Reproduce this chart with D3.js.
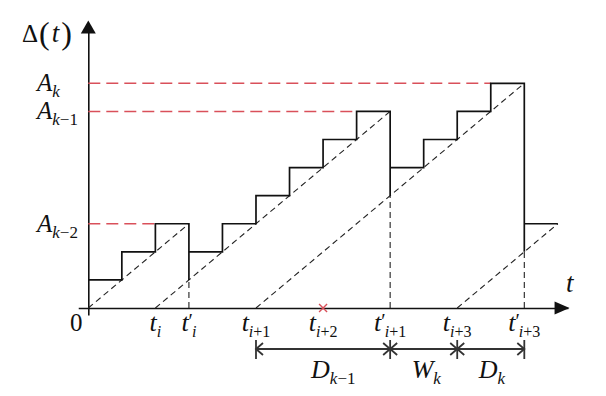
<!DOCTYPE html>
<html>
<head>
<meta charset="utf-8">
<script src="https://cdn.jsdelivr.net/npm/d3@7"></script>
<style>
  html, body { margin: 0; padding: 0; background: #fff; }
  svg { display: block; }
</style>
</head>
<body>
<svg id="chart" width="606" height="396"></svg>
<script>
// ---------------- data ----------------
// staircase of age Δ(t): each run is a list of [t, Δ] vertices
const stairRun1 = [[0,1],[1,1],[1,2],[2,2],[2,3],[3,3],[3,1]];
const stairRun2 = [[3,2],[4,2],[4,3],[5,3],[5,4],[6,4],[6,5],[7,5],[7,6],[8,6],[8,7],[9,7],[9,4]];
const stairRun3 = [[9,5],[10,5],[10,6],[11,6],[11,7],[12,7],[12,8],[13,8],[13,2]];
const stairRun4 = [[13,3],[14,3]];
// dashed unit-slope age lines: start time -> end time
const diagStart = [0, 2, 5, 11];
const diagEnd   = [3, 9, 13, 14];
// dashed vertical drop lines: time, height
const dropTimes   = [3, 9, 13];
const dropHeights = [1, 4, 2];
// red peak-age levels
const peakLevels = [3, 7, 8];
const peakEnds   = [2, 8, 12];
const peakSubs   = ["k−2", "k−1", "k"];
// time tick labels
const tickTimes  = [2, 3, 5, 7, 9, 11, 13];
const tickSubs   = ["i", "i", "i+1", "i+2", "i+1", "i+3", "i+3"];
const tickPrimes = [false, true, false, false, true, false, true];
const lostTime = 7; // red cross at t_{i+2}
// intervals below the axis
const intervalBounds = [5, 9, 11, 13];
const intervalBase   = ["D", "W", "D"];
const intervalSubs   = ["k−1", "k", "k"];

// ---------------- scales ----------------
const x = d3.scaleLinear().domain([0, 13]).range([88.3, 524.3]);
const y = d3.scaleLinear().domain([0, 8]).range([308, 83.3]);

const svg = d3.select("#chart");
const RED = "#d9505a";
const FONT = "Liberation Serif";

function txt(xp, yp) {
  return svg.append("text").attr("x", xp).attr("y", yp)
    .style("font-family", FONT).attr("fill", "#111");
}
// subscript helper: italic letters, upright digits/signs
function addSub(textSel, sub, size, dy, dx) {
  const parts = sub.match(/[a-z]+|[^a-z]+/g);
  parts.forEach((p, i) => {
    const t = textSel.append("tspan")
      .attr("font-size", size)
      .attr("font-style", /[a-z]/.test(p) ? "italic" : "normal")
      .text(p);
    if (i === 0) { t.attr("dy", dy); if (dx) t.attr("dx", dx); }
  });
}

// ---------------- axes ----------------
const xAxisScale = x.copy().domain([-0.3, 14.3]).range([x(-0.3), x(14.3)]);
const yAxisScale = y.copy().domain([-0.25, 10.0]).range([y(-0.25), y(10.0)]);
svg.append("g").attr("transform", `translate(0,${y(0)})`)
  .call(d3.axisBottom(xAxisScale).tickValues([]).tickSizeOuter(0))
  .call(g => g.select(".domain").attr("stroke", "#111").attr("stroke-width", 1.6));
svg.append("g").attr("transform", `translate(${x(0)},0)`)
  .call(d3.axisLeft(yAxisScale).tickValues([]).tickSizeOuter(0))
  .call(g => g.select(".domain").attr("stroke", "#111").attr("stroke-width", 1.6));
// arrowheads
const xTip = x(14.35), yTip = y(10.24);
svg.append("path")
  .attr("d", `M${xTip},${y(0)} L${xTip-15},${y(0)-6.5} L${xTip-15},${y(0)+6.5} Z`)
  .attr("fill", "#111");
svg.append("path")
  .attr("d", `M${x(0)},${yTip} L${x(0)-7.5},${yTip+13} L${x(0)+7.5},${yTip+13} Z`)
  .attr("fill", "#111");

// ---------------- red dashed peak levels ----------------
svg.selectAll(".peak").data(peakLevels).join("line")
  .attr("x1", x(0)).attr("x2", (d, i) => x(peakEnds[i]))
  .attr("y1", d => y(d)).attr("y2", d => y(d))
  .attr("stroke", RED).attr("stroke-width", 1.5)
  .attr("stroke-dasharray", "12,6");

// ---------------- dashed age lines ----------------
svg.selectAll(".diag").data(diagStart).join("line")
  .attr("x1", d => x(d)).attr("y1", y(0))
  .attr("x2", (d, i) => x(diagEnd[i])).attr("y2", (d, i) => y(diagEnd[i] - d))
  .attr("stroke", "#222").attr("stroke-width", 1.1)
  .attr("stroke-dasharray", "6,4");
svg.selectAll(".drop").data(dropTimes).join("line")
  .attr("x1", d => x(d)).attr("x2", d => x(d))
  .attr("y1", y(0)).attr("y2", (d, i) => y(dropHeights[i]))
  .attr("stroke", "#222").attr("stroke-width", 1.1)
  .attr("stroke-dasharray", "6,4");

// ---------------- staircase ----------------
const line = d3.line().x(d => x(d[0])).y(d => y(d[1]));
[stairRun1, stairRun2, stairRun3, stairRun4].forEach(run => {
  svg.append("path").attr("d", line(run))
    .attr("fill", "none").attr("stroke", "#111").attr("stroke-width", 1.7);
});

// ---------------- red cross ----------------
svg.append("path")
  .attr("d", `M${x(lostTime)-4},${y(0)-4} L${x(lostTime)+4},${y(0)+4} M${x(lostTime)-4},${y(0)+4} L${x(lostTime)+4},${y(0)-4}`)
  .attr("stroke", RED).attr("stroke-width", 1.4);

// ---------------- y labels ----------------
const yl = txt(22, 42);
yl.append("tspan").attr("font-size", 25).text("Δ");
yl.append("tspan").attr("font-size", 32).attr("dx", 1).attr("dy", 2).text("(");
yl.append("tspan").attr("font-size", 27).attr("font-style", "italic").attr("dx", 2).attr("dy", -2).text("t");
yl.append("tspan").attr("font-size", 32).attr("dx", 2).attr("dy", 2).text(")");

peakLevels.forEach((lv, i) => {
  const t = txt(37, y(lv) + 8);
  t.append("tspan").attr("font-size", 25).attr("font-style", "italic").text("A");
  addSub(t, peakSubs[i], 17, 6);
});

txt(70, 331).attr("font-size", 25).text("0");
txt(566, 292).attr("font-size", 27).attr("font-style", "italic").text("t");

// ---------------- time tick labels ----------------
tickTimes.forEach((tv, i) => {
  const t = txt(x(tv), 331).attr("text-anchor", "middle");
  t.append("tspan").attr("font-size", 26).attr("font-style", "italic").text("t");
  if (tickPrimes[i]) {
    t.append("tspan").attr("font-size", 20).attr("dy", -3).text("′");
    addSub(t, tickSubs[i], 16, 9, -1);
  } else {
    addSub(t, tickSubs[i], 16, 6);
  }
});

// ---------------- interval bracket ----------------
const by = 349;
const bx0 = x(intervalBounds[0]), bx1 = x(intervalBounds[intervalBounds.length - 1]);
const br = svg.append("g").attr("stroke", "#333").attr("stroke-width", 1.8).attr("fill", "none");
br.append("line").attr("x1", bx0).attr("x2", bx1).attr("y1", by).attr("y2", by);
intervalBounds.forEach((tv, i) => {
  const cx = x(tv);
  br.append("line").attr("x1", cx).attr("x2", cx).attr("y1", by - 9).attr("y2", by + 10);
  let d = "";
  if (i < intervalBounds.length - 1) d += `M${cx+7},${by-6} L${cx},${by} L${cx+7},${by+6}`;
  if (i > 0) d += `M${cx-7},${by-6} L${cx},${by} L${cx-7},${by+6}`;
  br.append("path").attr("d", d);
});
intervalBase.forEach((b, i) => {
  const mid = (x(intervalBounds[i]) + x(intervalBounds[i + 1])) / 2;
  const t = txt(mid - 12, 378);
  t.append("tspan").attr("font-size", 26).attr("font-style", "italic").text(b);
  addSub(t, intervalSubs[i], 17, 6);
});
</script>
</body>
</html>
